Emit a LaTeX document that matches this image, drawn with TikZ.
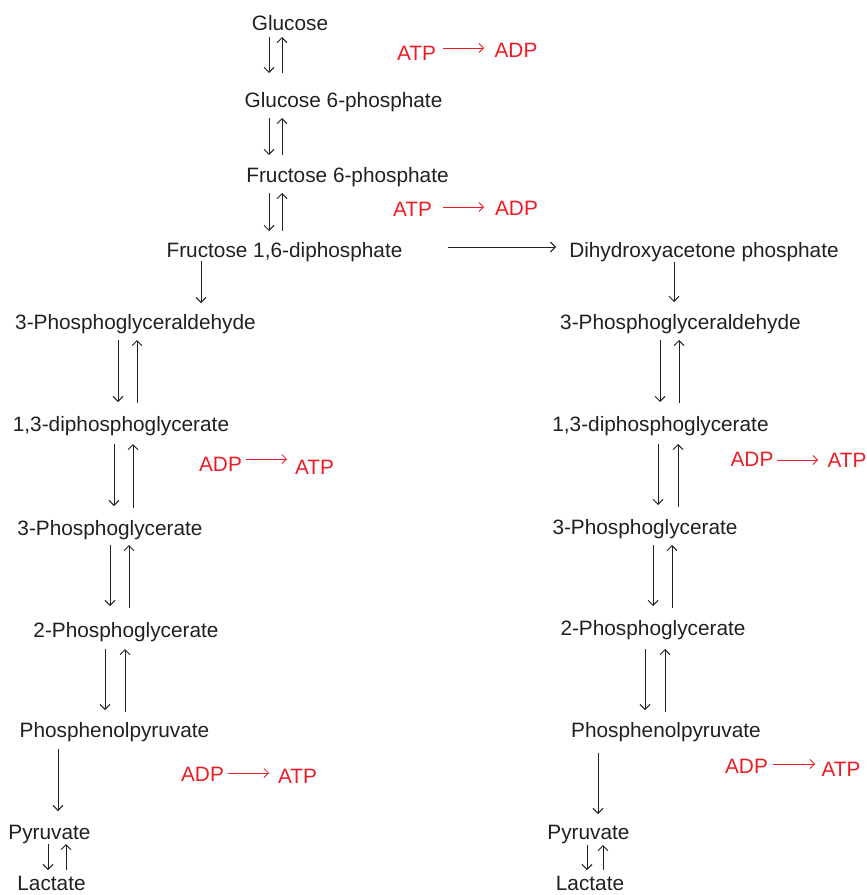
\documentclass[tikz,border=0pt]{standalone}
\usepackage{fontspec}
\setmainfont{Liberation Sans}
\usetikzlibrary{arrows.meta}
\definecolor{txt}{RGB}{35,31,32}
\definecolor{rd}{RGB}{237,28,36}
\begin{document}
\begin{tikzpicture}[x=1bp,y=-1bp,
  lbl/.style={anchor=base,inner sep=0pt,outer sep=0pt,text=txt,font=\fontsize{20.8bp}{25bp}\selectfont},
  rlbl/.style={lbl,text=rd},
  rx/.style={draw=txt,line width=0.9bp,-{Straight Barb[length=5bp,width=10bp]}},
  rrx/.style={draw=rd,line width=0.8bp,-{Straight Barb[length=4.5bp,width=9bp]}}]
\useasboundingbox (0,0) rectangle (867,895);
% left / main column
\node[lbl] (glc)  at (290,30)   {Glucose};
\node[lbl] (g6p)  at (343.5,107) {Glucose 6-phosphate};
\node[lbl] (f6p)  at (347.5,182) {Fructose 6-phosphate};
\node[lbl] (f16)  at (284.5,257) {Fructose 1,6-diphosphate};
\node[lbl] (dhap) at (704,257)  {Dihydroxyacetone phosphate};
\node[lbl] (galL) at (135.5,329) {3-Phosphoglyceraldehyde};
\node[lbl] (galR) at (680.5,329) {3-Phosphoglyceraldehyde};
\node[lbl] (dpgL) at (121,431)  {1,3-diphosphoglycerate};
\node[lbl] (dpgR) at (660.5,431) {1,3-diphosphoglycerate};
\node[lbl] (pg3L) at (110,535)  {3-Phosphoglycerate};
\node[lbl] (pg3R) at (645,534)  {3-Phosphoglycerate};
\node[lbl] (pg2L) at (126,637)  {2-Phosphoglycerate};
\node[lbl] (pg2R) at (653,635)  {2-Phosphoglycerate};
\node[lbl] (pepL) at (114.5,737) {Phosphenolpyruvate};
\node[lbl] (pepR) at (666,737)  {Phosphenolpyruvate};
\node[lbl] (pyrL) at (49.5,839) {Pyruvate};
\node[lbl] (pyrR) at (588.5,839) {Pyruvate};
\node[lbl] (lacL) at (51.5,890) {Lactate};
\node[lbl] (lacR) at (590,890)  {Lactate};
% red cofactor labels
\node[rlbl] (atp1) at (416.5,60) {ATP};
\node[rlbl] (adp1) at (516,57)   {ADP};
\node[rlbl] (atp2) at (412.5,216) {ATP};
\node[rlbl] (adp2) at (516.5,215) {ADP};
\node[rlbl] (adp3) at (220.5,471) {ADP};
\node[rlbl] (atp3) at (314.5,474) {ATP};
\node[rlbl] (adp4) at (752,466)  {ADP};
\node[rlbl] (atp4) at (847,467)  {ATP};
\node[rlbl] (adp5) at (202.5,781) {ADP};
\node[rlbl] (atp5) at (297.5,783) {ATP};
\node[rlbl] (adp6) at (746.5,773) {ADP};
\node[rlbl] (atp6) at (841,776)  {ATP};
% vertical reaction arrows: name/x/start y/end y
\foreach \n/\x/\ya/\yb in {
  d1/269/37/73, u1/282/73/37,
  d2/269/118/155, u2/282/155/118,
  d3/269/193/231, u3/282/231/193,
  d4/201/261/303, d5/674/262/302,
  d6/118/340/402, u6/137/403/340,
  d7/660/340/402, u7/679/403/340,
  d8/114/444/506, u8/133/508/444,
  d9/658/444/505, u9/678/507/444,
  d10/110/545/606, u10/129/608/545,
  d11/653/545/606, u11/672/608/545,
  d12/105/649/710, u12/125/712/649,
  d13/645/649/710, u13/665/712/649,
  d14/58/749/811, d15/598/753/814,
  d16/48/844/870, u16/66/870/844,
  d17/587/845/870, u17/603/870/845}
{
  \coordinate (\n a) at (\x,\ya);
  \coordinate (\n b) at (\x,\yb);
  \draw[rx] (\n a) -- (\n b);
}
% branch arrow
\coordinate (h1a) at (448,247);
\coordinate (h1b) at (556,247);
\draw[rx] (h1a) -- (h1b);
% red arrows: name/x1/x2/y
\foreach \n/\xa/\xb/\y in {
  r1/443/484/48, r2/443/484/207, r3/246/287/459,
  r4/777/818/460, r5/228/269/773, r6/773/815/764}
{
  \coordinate (\n a) at (\xa,\y);
  \coordinate (\n b) at (\xb,\y);
  \draw[rrx] (\n a) -- (\n b);
}
\end{tikzpicture}
\end{document}
